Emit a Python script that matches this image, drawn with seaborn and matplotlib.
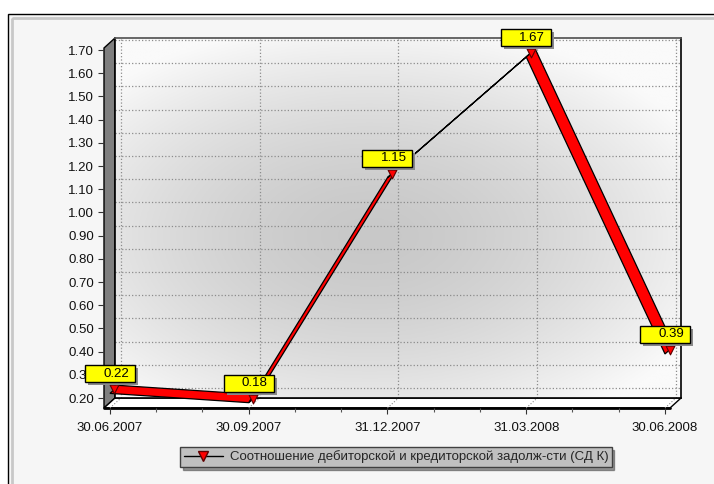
import numpy as np
import pandas as pd
import matplotlib
matplotlib.use("Agg")
import matplotlib.pyplot as plt
import matplotlib.transforms as mtransforms
from matplotlib.patches import Rectangle, Polygon
from matplotlib.lines import Line2D
import seaborn as sns

# Data
dates = ["30.06.2007", "30.09.2007", "31.12.2007", "31.03.2008", "30.06.2008"]
values = [0.22, 0.18, 1.15, 1.67, 0.39]
y_ticks = [0.20, 0.30, 0.40, 0.50, 0.60, 0.70, 0.80, 0.90, 1.00,
           1.10, 1.20, 1.30, 1.40, 1.50, 1.60, 1.70]
series_name = "Соотношение дебиторской и кредиторской задолж-сти (СД К)"

df = pd.DataFrame({"date": dates, "value": values})
df["pos"] = np.arange(len(df))

# Settings
sns.set_theme(style="white")
plt.rcParams["font.family"] = ["Liberation Sans", "DejaVu Sans"]

W, H = 714, 484
fig = plt.figure(figsize=(W / 100, H / 100), dpi=100)
fig.patch.set_facecolor("white")


def frac(x0, y0, x1, y1):
    # pixel box (top-left origin) -> figure fraction
    return [x0 / W, 1 - y1 / H, (x1 - x0) / W, (y1 - y0) / H]


# front plane of the plot box and the depth offset of the 3D look
FL, FT, FR, FB = 104, 48, 670, 408
DX, DY = 11, 10
xlim = (-0.043, 4.036)
ylim = (0.157, 1.709)

# ------------------------
# background canvas: frame, side wall, floor
# ------------------------
bg = fig.add_axes([0, 0, 1, 1], zorder=0)
bg.set_xlim(0, W)
bg.set_ylim(H, 0)
bg.axis("off")
bg.add_patch(Rectangle((8, 14), W, H, facecolor="#f6f6f6", edgecolor="black", lw=1))
bg.add_patch(Rectangle((12, 18), W, H, facecolor="none", edgecolor="#c8c8c8", lw=2))
bg.add_patch(Polygon([(FL, FT), (FL + DX, FT - DY), (FL + DX, FB - DY), (FL, FB)],
                     closed=True, facecolor="#7f7f7f", edgecolor="black", lw=1))
bg.add_patch(Polygon([(FL, FB), (FL + DX, FB - DY), (FR + DX, FB - DY), (FR, FB)],
                     closed=True, facecolor="white", edgecolor="black", lw=1))
bg.plot([FL, FR], [FB, FB], color="black", lw=2)

# ------------------------
# back wall with gradient and dotted grid
# ------------------------
back = fig.add_axes(frac(FL + DX, FT - DY, FR + DX, FB - DY), zorder=1)
gx, gy = np.meshgrid(np.linspace(0, 1, 300), np.linspace(0, 1, 200))
r = np.sqrt(((gx - 0.45) / 0.65) ** 2 + ((gy - 0.45) / 0.6) ** 2)
shade = (200 + 50 * np.clip(r, 0, 1) ** 1.6) / 255
back.imshow(np.dstack([shade, shade, shade]), extent=[0, 1, 0, 1],
            transform=back.transAxes, aspect="auto", origin="lower", zorder=0)
back.set_xlim(*xlim)
back.set_ylim(*ylim)
back.set_xticks(df["pos"])
back.set_yticks(y_ticks)
back.tick_params(length=0, labelleft=False, labelbottom=False)
back.grid(True, linestyle=":", color="#8c8c8c", lw=0.9)
for side in ["left", "bottom", "right"]:
    back.spines[side].set_color("black")
    back.spines[side].set_linewidth(1.2)
back.spines["top"].set_color("#555555")

# floor grid lines
for p in df["pos"]:
    px = FL + (p - xlim[0]) / (xlim[1] - xlim[0]) * (FR - FL)
    bg.plot([px, px + DX], [FB, FB - DY], color="#8c8c8c", lw=0.8, ls=":")

# ------------------------
# front plane: ticks, ribbon, markers, labels
# ------------------------
ax = fig.add_axes(frac(FL, FT, FR, FB), zorder=2)
ax.set_facecolor("none")
ax.set_xlim(*xlim)
ax.set_ylim(*ylim)
for s in ax.spines.values():
    s.set_visible(False)
ax.set_yticks(y_ticks)
ax.set_yticklabels([f"{t:.2f}" for t in y_ticks])
ax.set_xticks(df["pos"])
ax.set_xticklabels(dates)
ax.set_xticks(np.arange(0, 4.01, 1 / 3), minor=True)
ax.tick_params(axis="both", which="major", direction="out", length=4, width=0.8,
               color="#333333", labelsize=9.5, labelcolor="#111111", pad=3,
               left=True, bottom=True)
ax.tick_params(axis="x", which="minor", direction="out", length=3, width=0.8,
               color="#555555", bottom=True)
ax.tick_params(axis="x", which="major", pad=6)
ax.set_xlabel("")
ax.set_ylabel("")

# ribbon depth in data units
ddx = 9 * (xlim[1] - xlim[0]) / (FR - FL)
ddy = 8 * (ylim[1] - ylim[0]) / (FB - FT)

xs = df["pos"].to_numpy(dtype=float)
ys = df["value"].to_numpy(dtype=float)
for i in range(len(xs) - 1):
    px = [xs[i], xs[i + 1], xs[i + 1] + ddx, xs[i] + ddx]
    py = [ys[i], ys[i + 1], ys[i + 1] + ddy, ys[i] + ddy]
    ax.fill(px, py, facecolor="#ff0000", edgecolor="black", lw=0.9,
            clip_on=False, zorder=3)

sns.scatterplot(x=xs + ddx / 2, y=ys + ddy / 2, marker="v", s=40, color="#ff0000",
                edgecolor="#5a0000", linewidth=0.8, ax=ax, zorder=4, clip_on=False)

# value labels: yellow boxes with shadow
for x, v in zip(xs, ys):
    tr = mtransforms.IdentityTransform() + mtransforms.ScaledTranslation(x, v, ax.transData)
    ax.add_patch(Rectangle((-22, 8), 50, 17, transform=tr, facecolor="#8a8a8a",
                           edgecolor="none", clip_on=False, zorder=5))
    ax.add_patch(Rectangle((-25, 11), 50, 17, transform=tr, facecolor="#ffff00",
                           edgecolor="black", lw=1, clip_on=False, zorder=6))
    ax.text(19, 19.5, f"{v:.2f}", transform=tr, ha="right", va="center",
            fontsize=9.5, color="black", zorder=7, clip_on=False)

# Legend
handle = Line2D([], [], color="black", lw=1, marker="v", markersize=7,
                markerfacecolor="#ff0000", markeredgecolor="#600000")
leg = fig.legend(handles=[handle], labels=[series_name], loc="center",
                 bbox_to_anchor=(396 / W, 1 - 457 / H), frameon=True, fancybox=False,
                 shadow=True, facecolor="#c0c0c0", edgecolor="#404040", framealpha=1,
                 fontsize=9.5, handlelength=3, borderpad=0.25, handletextpad=0.5)
leg.get_frame().set_linewidth(1)

fig.savefig("out.png", dpi=100)
